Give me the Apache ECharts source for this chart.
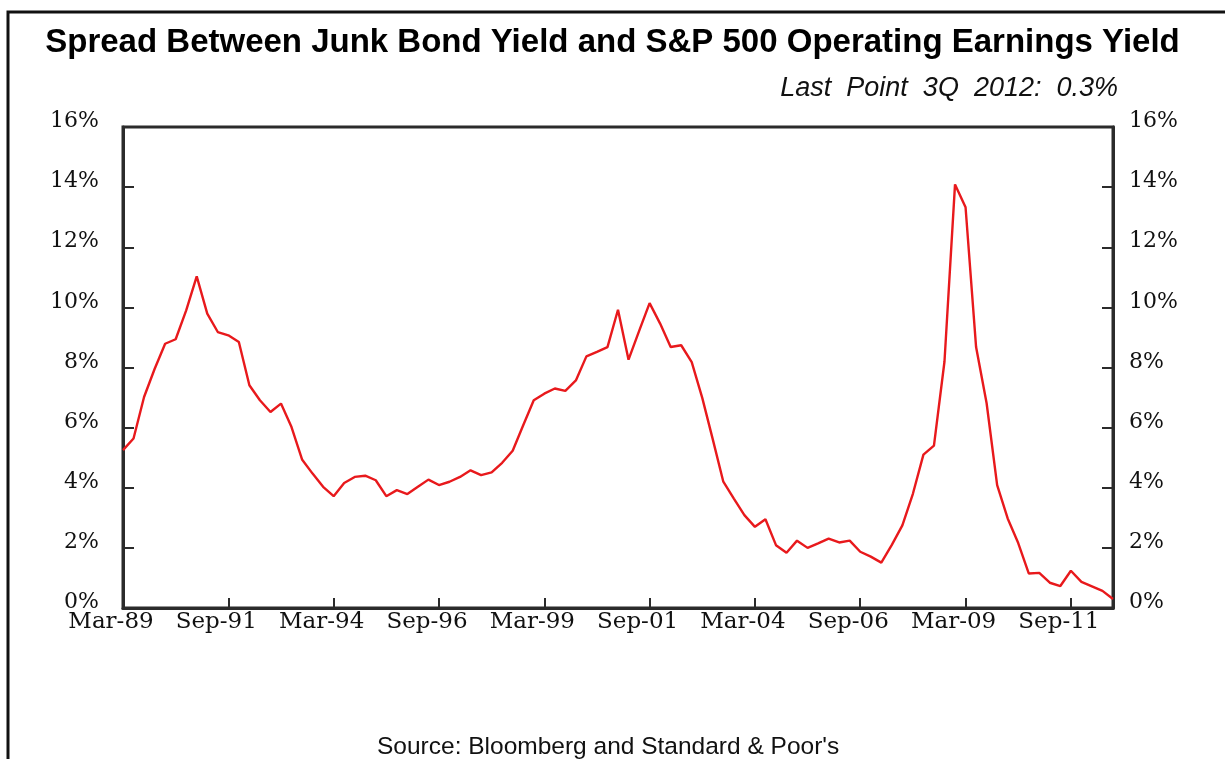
<!DOCTYPE html>
<html>
<head>
<meta charset="utf-8">
<style>
  html, body { margin: 0; padding: 0; background: #fff; }
  #chart { width: 1225px; height: 759px; }
</style>
<script src="https://cdn.jsdelivr.net/npm/echarts@6/dist/echarts.min.js"></script>
</head>
<body>
<div id="chart"></div>
<script>
// Quarterly spread (junk bond yield minus S&P 500 operating earnings yield), %, Mar-89 .. Sep-12
const spread = [
  5.25, 5.64, 7.02, 7.95, 8.79, 8.94, 9.90, 11.03, 9.79, 9.18,
  9.07, 8.85, 7.41, 6.91, 6.52, 6.80, 6.02, 4.94, 4.47, 4.03,
  3.72, 4.16, 4.36, 4.40, 4.25, 3.72, 3.92, 3.79, 4.03, 4.27,
  4.09, 4.20, 4.36, 4.58, 4.42, 4.51, 4.83, 5.23, 6.08, 6.91,
  7.13, 7.30, 7.22, 7.57, 8.37, 8.52, 8.68, 9.92, 8.26, 9.21,
  10.14, 9.46, 8.68, 8.74, 8.18, 6.99, 5.61, 4.20, 3.64, 3.09,
  2.70, 2.95, 2.09, 1.84, 2.24, 2.00, 2.15, 2.31, 2.18, 2.24,
  1.87, 1.71, 1.51, 2.10, 2.75, 3.80, 5.10, 5.40, 8.20, 14.09,
  13.33, 8.68, 6.81, 4.09, 2.98, 2.16, 1.15, 1.17, 0.84, 0.73,
  1.24, 0.87, 0.72, 0.57, 0.30
];

// Quarter-end month names and the first quarter of the series
const quarterMonths = ['Mar', 'Jun', 'Sep', 'Dec'];
const firstYear = 1989;

// Category labels such as "Mar-89", one per quarter
const quarters = spread.map(function (_, i) {
  const y = firstYear + Math.floor(i / 4);
  return quarterMonths[i % 4] + '-' + String(y % 100).padStart(2, '0');
});

// Y-axis range and step (percent)
const yMin = 0, yMax = 16, yStep = 2;

const titleText = 'Spread Between Junk Bond Yield and S&P 500 Operating Earnings Yield';
const noteText = 'Last  Point  3Q  2012:  0.3%';
const sourceText = "Source: Bloomberg and Standard & Poor's";

const axisColor = '#2b2b2b';
const serif = "'DejaVu Serif', 'Liberation Serif', serif";
const sans = "'Liberation Sans', Arial, sans-serif";

const chart = echarts.init(document.getElementById('chart'), null, { renderer: 'canvas' });

function yAxisDef(pos) {
  return {
    type: 'value',
    position: pos,
    min: yMin, max: yMax, interval: yStep,
    axisLine: { show: true, lineStyle: { color: axisColor, width: 3 } },
    axisTick: { show: true, inside: true, length: 11, lineStyle: { color: axisColor, width: 2 } },
    splitLine: { show: false },
    axisLabel: {
      // trailing empty line lifts each label slightly above its tick
      formatter: function (v) { return v + '%\n'; },
      lineHeight: 11,
      fontFamily: serif, fontSize: 22, color: '#111',
      margin: pos === 'left' ? 24 : 16
    }
  };
}

chart.setOption({
  animation: false,
  backgroundColor: '#fff',
  grid: {
    left: 123, right: 112, top: 127, bottom: 151,
    show: true, borderColor: axisColor, borderWidth: 3
  },
  title: [
    {
      text: titleText, left: 'center', top: 21,
      textStyle: { fontFamily: sans, fontWeight: 'bold', fontSize: 33, color: '#000' }
    },
    {
      text: noteText, right: 102, top: 70,
      textStyle: { fontFamily: sans, fontStyle: 'italic', fontWeight: 'normal', fontSize: 27, color: '#111' }
    },
    {
      text: sourceText, left: 372, top: 730,
      textStyle: { fontFamily: sans, fontWeight: 'normal', fontSize: 24.5, color: '#111' }
    }
  ],
  graphic: [
    {
      type: 'rect', silent: true,
      shape: { x: 8, y: 12, width: 1260, height: 800 },
      style: { fill: 'none', stroke: '#111', lineWidth: 3 }
    }
  ],
  xAxis: {
    type: 'category',
    data: quarters,
    boundaryGap: false,
    axisLine: { show: true, lineStyle: { color: axisColor, width: 3 } },
    axisTick: { show: true, inside: true, interval: 9, length: 10, lineStyle: { color: axisColor, width: 2 } },
    axisLabel: {
      interval: 9, margin: 3,
      fontFamily: serif, fontSize: 23, color: '#111',
      padding: [0, 24, 0, 0]
    },
    splitLine: { show: false }
  },
  yAxis: [yAxisDef('left'), yAxisDef('right')],
  series: [
    {
      type: 'line',
      data: spread,
      yAxisIndex: 0,
      showSymbol: false,
      lineStyle: { color: '#e8191c', width: 2.4 },
      itemStyle: { color: '#e8191c' }
    }
  ]
});
</script>
</body>
</html>
